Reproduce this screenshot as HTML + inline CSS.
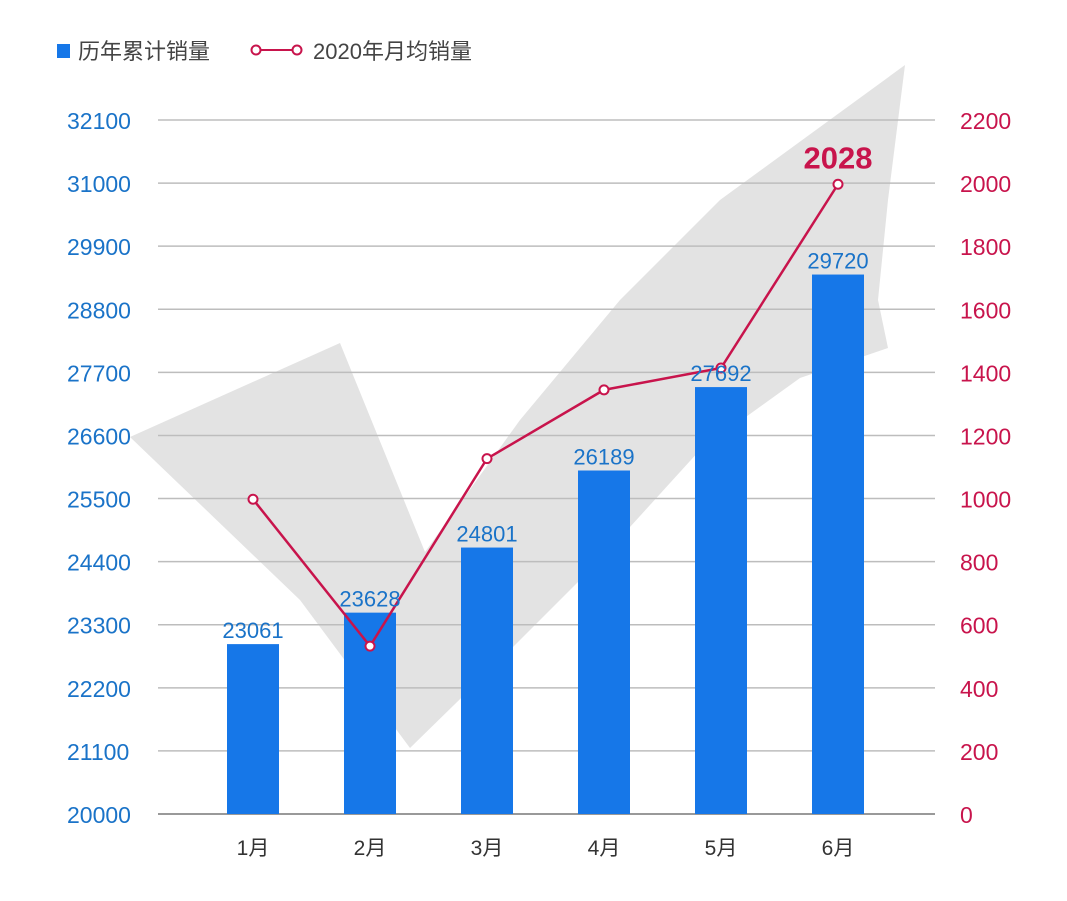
<!DOCTYPE html>
<html><head><meta charset="utf-8">
<style>
body{margin:0;background:#fff;}
svg text{font-family:"Liberation Sans","Noto Sans CJK SC",sans-serif;}
</style></head>
<body>
<svg id="chart" width="1067" height="896" viewBox="0 0 1067 896" xmlns="http://www.w3.org/2000/svg">
<polygon fill="#e3e3e3" points="130,437 340,343 425,552 520,420 620,300 720,200 905,65 888,200 878,300 888,348 800,378 700,450 600,560 500,660 410,748 300,600"/>
<g>
<rect x="57" y="44" width="13" height="14" fill="#1677e8"/>
<text x="78" y="59" font-size="22" fill="#444">历年累计销量</text>
<line x1="256" y1="50" x2="297" y2="50" stroke="#c8144c" stroke-width="2"/>
<circle cx="256" cy="50" r="4.5" fill="#fff" stroke="#c8144c" stroke-width="2"/>
<circle cx="297" cy="50" r="4.5" fill="#fff" stroke="#c8144c" stroke-width="2"/>
<text x="313" y="59" font-size="22" fill="#444">2020年月均销量</text>
</g>
<g id="grid"></g><g id="bars"></g><g id="line"></g><g id="labels"></g>
</svg>
<script>
const categories=["1月","2月","3月","4月","5月","6月"];
const cumulative=[23061,23628,24801,26189,27692,29720];
const monthlyAvg=[1020,550,1150,1370,1440,2028];
const leftTicks=[20000,21100,22200,23300,24400,25500,26600,27700,28800,29900,31000,32100];
const rightTicks=[0,200,400,600,800,1000,1200,1400,1600,1800,2000,2200];
const NS="http://www.w3.org/2000/svg";
const plotTop=120,plotBottom=814,step=117;
const yGrid=i=>plotBottom-i*(plotBottom-plotTop)/11;
const yL=v=>plotBottom-(v-20000)*0.0555;
const yR=v=>818-v*0.3125;
const xC=i=>253+i*step;
function mk(tag,attrs,parent,txt){const e=document.createElementNS(NS,tag);for(const k in attrs)e.setAttribute(k,attrs[k]);if(txt!==undefined)e.textContent=txt;document.getElementById(parent).appendChild(e);return e;}
leftTicks.forEach((t,i)=>{
 const y=yGrid(i);
 const g=mk("line",{x1:158,x2:935,y1:y,y2:y,stroke:i===0?"#999":"#bdbdbd","stroke-width":i===0?2:1.5},"grid");
 
 
 const l=mk("text",{x:67,y:y+9,"font-size":23,fill:"#1a73c8"},"grid",t);
 
 
});
rightTicks.forEach((t,i)=>{
 const l=mk("text",{x:960,y:yGrid(i)+9,"font-size":23,fill:"#c8144c"},"grid",t);
 
 
});
categories.forEach((c,i)=>{
 const l=mk("text",{x:xC(i),y:855,"font-size":21,fill:"#333","text-anchor":"middle"},"grid",c);
 
 
});
cumulative.forEach((v,i)=>{
 const y=yL(v);
 const b=mk("rect",{x:xC(i)-26,y:y,width:52,height:plotBottom-y,fill:"#1677e8"},"bars");
 
 
 const l=mk("text",{x:xC(i),y:y-6,"font-size":22,fill:"#1a73c8","text-anchor":"middle"},"labels",v);
 
 
});
const pl=mk("polyline",{points:monthlyAvg.map((v,i)=>xC(i)+","+yR(v)).join(" "),fill:"none",stroke:"#c8144c","stroke-width":2.5},"line");


monthlyAvg.forEach((v,i)=>{
 const c=mk("circle",{cx:xC(i),cy:yR(v),r:4.5,fill:"#fff",stroke:"#c8144c","stroke-width":2},"line");
 
 
});
const last=monthlyAvg.length-1;
const hl=mk("text",{x:xC(last),y:yR(monthlyAvg[last])-16,"font-size":31,"font-weight":"bold",fill:"#c8144c","text-anchor":"middle"},"labels",monthlyAvg[last]);


</script>
</body></html>
